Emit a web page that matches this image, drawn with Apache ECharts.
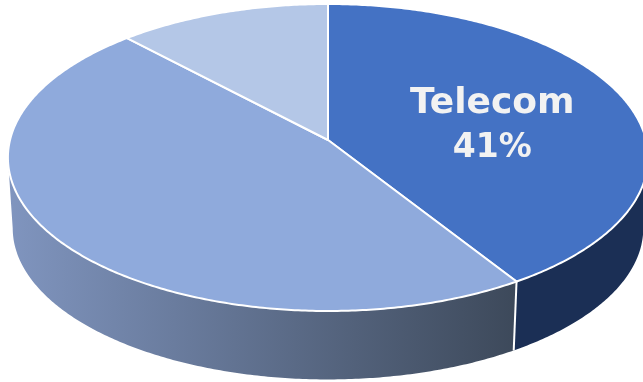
<!DOCTYPE html>
<html>
<head>
<meta charset="utf-8">
<style>html,body{margin:0;padding:0;background:#fff}#chart{width:643px;height:382px}</style>
<script src="https://cdn.jsdelivr.net/npm/echarts@6/dist/echarts.min.js"></script>
</head>
<body>
<div id="chart"></div>
<script>
// Share of each sector, clockwise from twelve o'clock.
const sectorNames = ['Telecom', '', ''];
const sectorValues = [41, 47, 12];
const faceColors = ['#4472C4', '#8FAADC', '#B4C7E7'];

// Perspective of the tilted disc.
const apexX = 328, apexY = 140;
const radiusX = 318, radiusY = 151.5, tilt = -0.114;
const wallDrop = 71, wallShrink = 0.985;
const TAU = Math.PI * 2;
// Rim angles at the disc's left and right extremes; the side wall shows between them.
const wallStart = Math.acos(tilt), wallEnd = TAU - wallStart;

function project(angle, r) {
  const u = Math.sin(angle) * r, v = -Math.cos(angle) * r;
  const d = 1 + tilt * v;
  return [apexX + radiusX * u / d, apexY + radiusY * v / d];
}
function lower(p) {
  return [apexX + (p[0] - apexX) * wallShrink, apexY + wallDrop + (p[1] - apexY) * wallShrink];
}
function arcPoints(a0, a1) {
  const steps = Math.max(2, Math.ceil((a1 - a0) / 0.01));
  const pts = [];
  for (let i = 0; i <= steps; i++) pts.push(project(a0 + (a1 - a0) * i / steps, 1));
  return pts;
}
const total = sectorValues.reduce((s, v) => s + v, 0);
function sectorAngles(i) {
  const before = sectorValues.slice(0, i).reduce((s, v) => s + v, 0);
  return [before / total * TAU, (before + sectorValues[i]) / total * TAU];
}
const wallFills = [
  '#1B2F55',
  new echarts.graphic.LinearGradient(8, 0, 522, 0, [
    { offset: 0, color: '#8095BF' },
    { offset: 1, color: '#3C4859' }
  ], true),
  '#8095BF'
];

function renderWall(params) {
  const [a0, a1] = sectorAngles(params.dataIndex);
  const from = Math.max(a0, wallStart), to = Math.min(a1, wallEnd);
  if (to <= from) return { type: 'group', children: [] };
  const rim = arcPoints(from, to);
  const children = [{
    type: 'polygon',
    shape: { points: rim.concat(rim.map(lower).reverse()) },
    style: { fill: wallFills[params.dataIndex] }
  }];
  // White seam where this sector's wall meets the next one.
  if (a1 < wallEnd) {
    const top = project(a1, 1), bottom = lower(top);
    children.push({
      type: 'line', z2: 5,
      shape: { x1: top[0], y1: top[1], x2: bottom[0], y2: bottom[1] },
      style: { stroke: '#fff', lineWidth: 2 }
    });
  }
  return { type: 'group', children };
}
function renderFace(params) {
  const i = params.dataIndex;
  const [a0, a1] = sectorAngles(i);
  const children = [{
    type: 'polygon',
    shape: { points: [[apexX, apexY]].concat(arcPoints(a0, a1)) },
    style: { fill: faceColors[i], stroke: '#fff', lineWidth: 2, lineJoin: 'round' }
  }];
  if (sectorNames[i]) {
    const c = project((a0 + a1) / 2 + 0.06, 0.55);
    const labelStyle = {
      fill: '#F2F2F2', fontFamily: '"DejaVu Sans"', fontWeight: 'bold',
      align: 'center', verticalAlign: 'middle'
    };
    children.push({
      type: 'text', z2: 10,
      style: Object.assign({ text: sectorNames[i], x: c[0] - 4, y: c[1] - 18, fontSize: 36 }, labelStyle)
    }, {
      type: 'text', z2: 10,
      style: Object.assign({ text: sectorValues[i] + '%', x: c[0] - 4, y: c[1] + 27, fontSize: 33 }, labelStyle)
    });
  }
  return { type: 'group', children };
}

const chart = echarts.init(document.getElementById('chart'), null, { renderer: 'canvas' });
chart.setOption({
  animation: false,
  backgroundColor: '#fff',
  series: [
    { type: 'custom', coordinateSystem: 'none', z: 1, data: sectorValues, renderItem: renderWall, silent: true },
    { type: 'custom', coordinateSystem: 'none', z: 2, data: sectorValues, renderItem: renderFace, silent: true }
  ]
});
</script>
</body>
</html>
